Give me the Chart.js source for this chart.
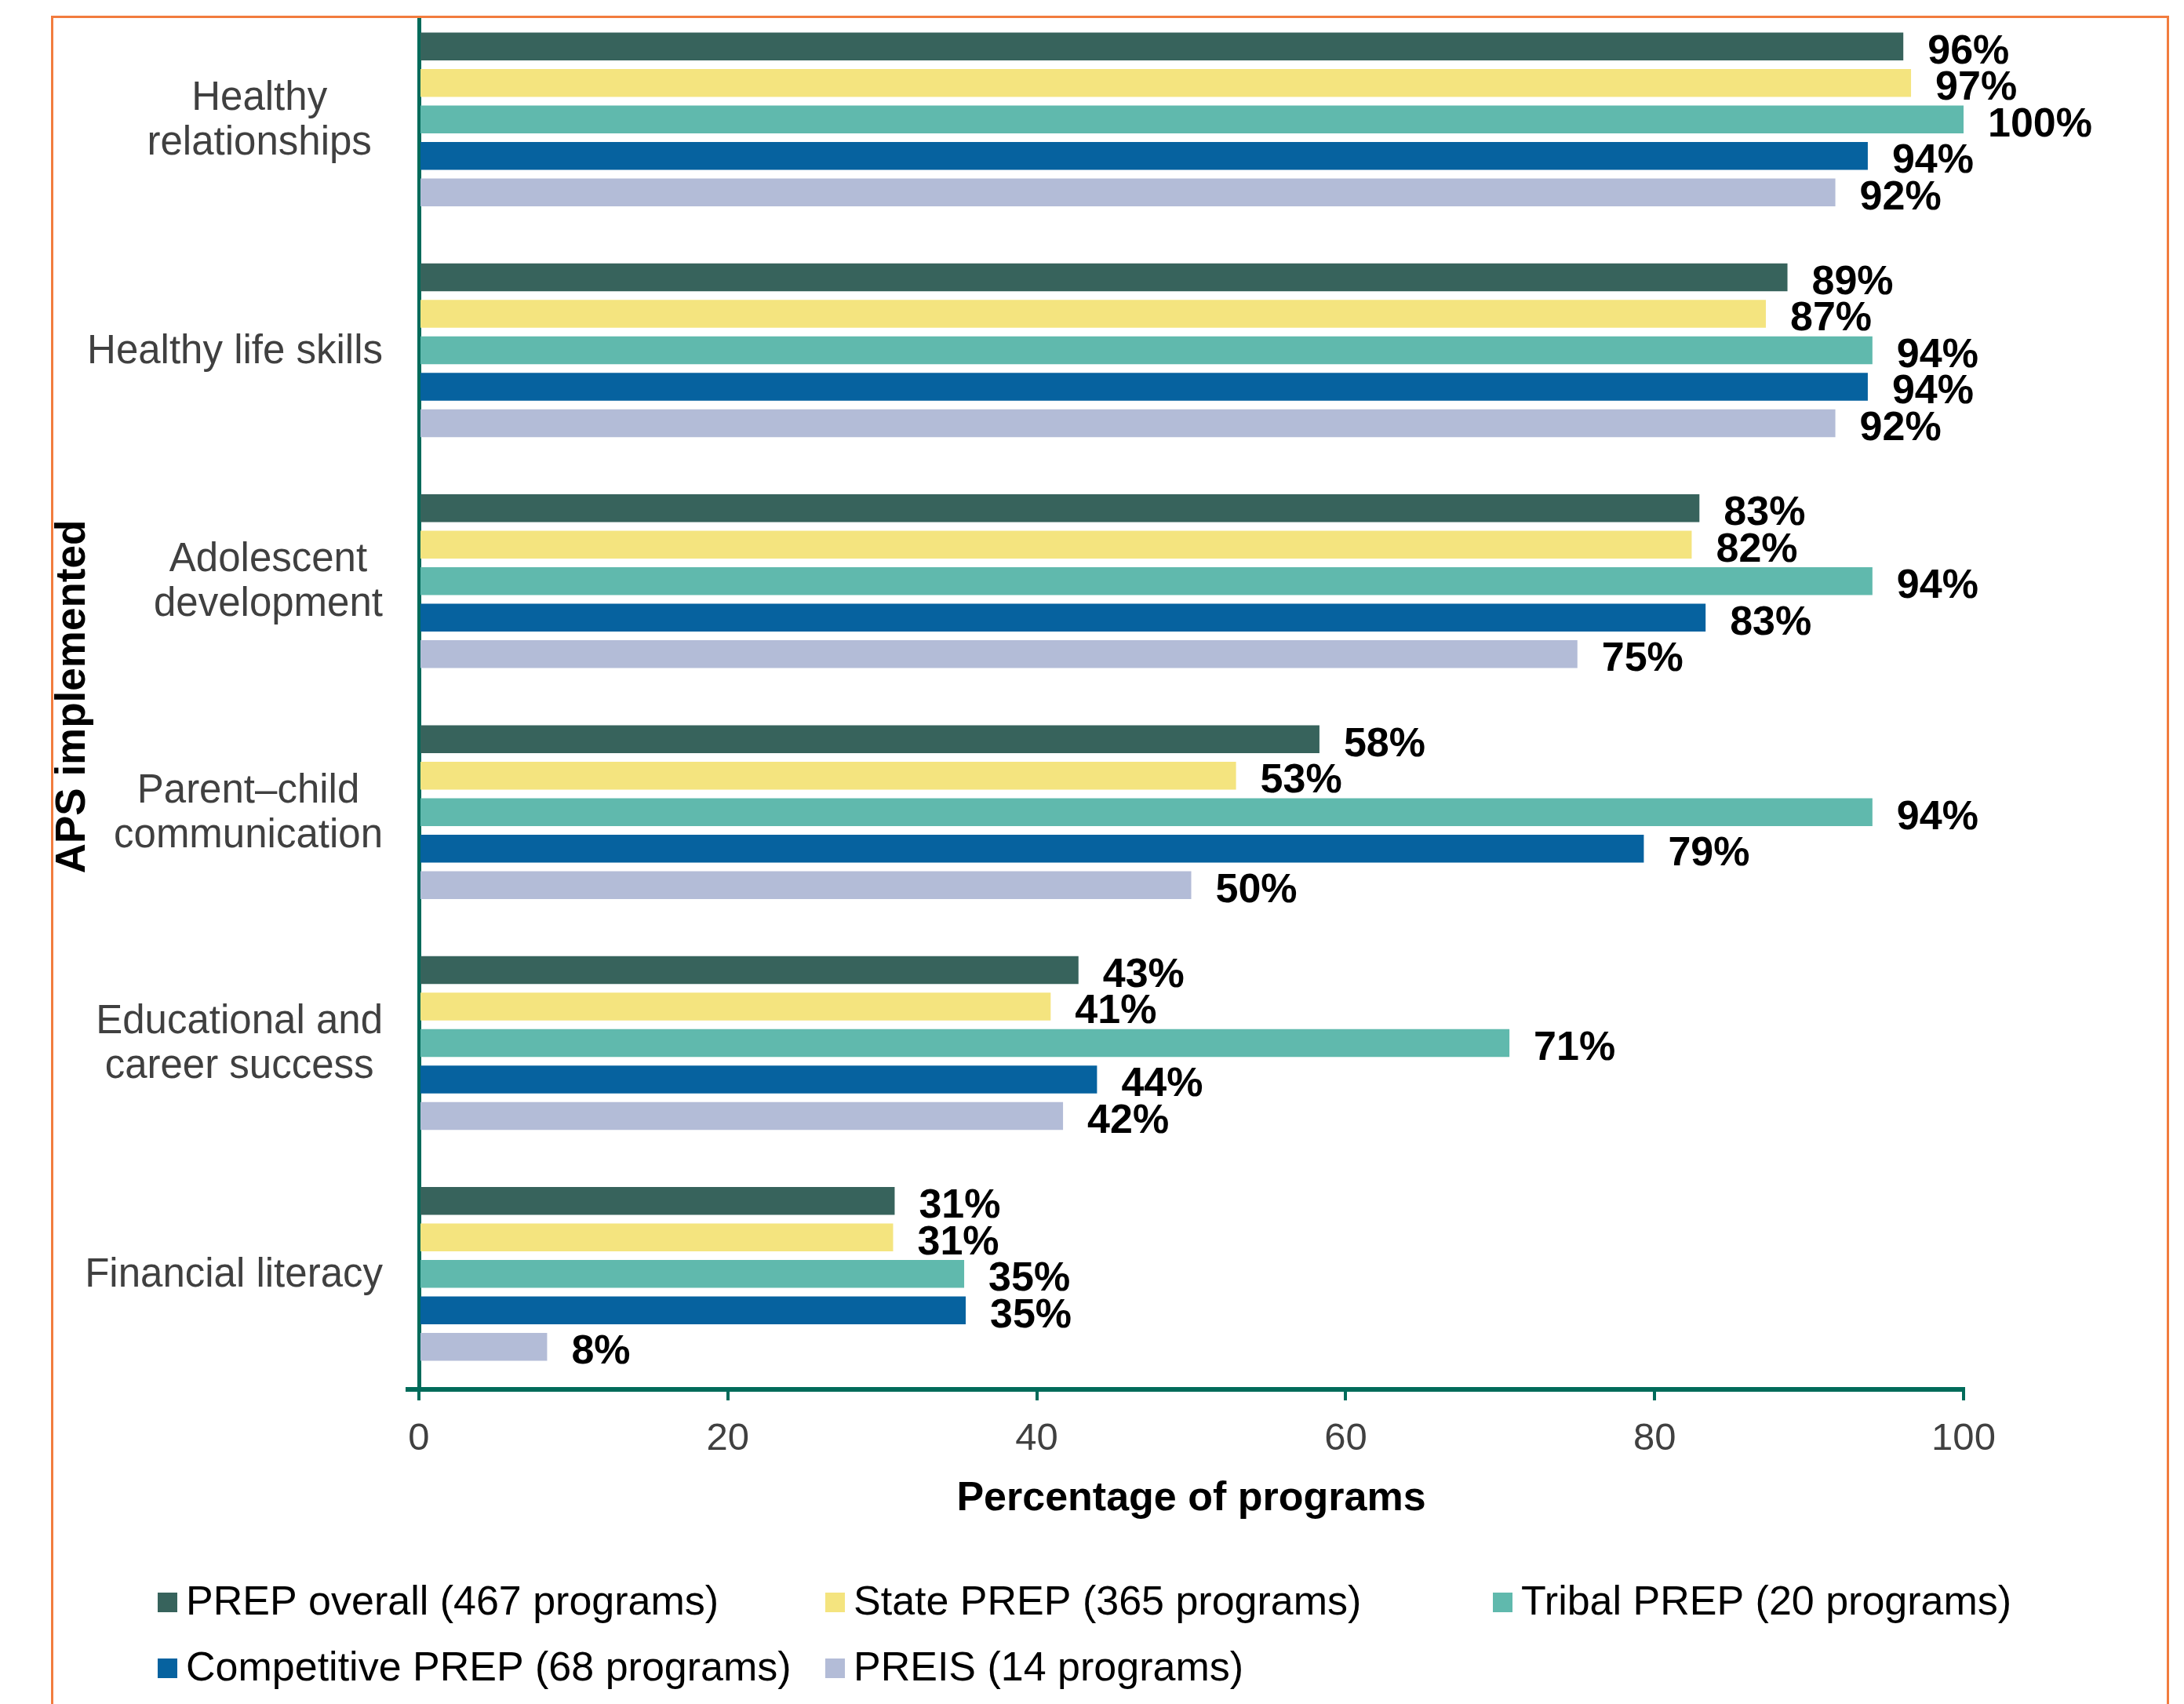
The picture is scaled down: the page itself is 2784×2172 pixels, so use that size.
<!DOCTYPE html>
<html>
<head>
<meta charset="utf-8">
<script src="https://cdn.jsdelivr.net/npm/chart.js@4.4.1/dist/chart.umd.min.js"></script>
<style>
  html, body { margin: 0; padding: 0; width: 2784px; height: 2172px; overflow: hidden; background: #fff; }
  #frame { position: absolute; left: 65px; top: 20px; width: 2694px; height: 2300px; border: 3px solid #F27C3E; overflow: hidden; }
  #chart { position: absolute; left: -68px; top: -23px; }
</style>
</head>
<body>
<div id="frame"><canvas id="chart" width="2784" height="2172"></canvas></div>
<script>
// category labels, one entry per wrapped line
const categories = [
  ['Healthy ', 'relationships '],
  ['Healthy life skills'],
  ['Adolescent', 'development'],
  ['Parent\u2013child', 'communication'],
  ['Educational and', 'career success'],
  ['Financial literacy']
];

const seriesNames = [
  'PREP overall (467 programs)',
  'State PREP (365 programs)',
  'Tribal PREP (20 programs)',
  'Competitive PREP (68 programs)',
  'PREIS (14 programs)'
];

const prepOverall     = [96.1, 88.6, 82.9, 58.3, 42.7, 30.8];
const statePrep       = [96.6, 87.2, 82.4, 52.9, 40.9, 30.7];
const tribalPrep      = [100, 94.1, 94.1, 94.1, 70.6, 35.3];
const competitivePrep = [93.8, 93.8, 83.3, 79.3, 43.9, 35.4];
const preis           = [91.7, 91.7, 75.0, 50.0, 41.7, 8.3];

const xTicks = [0, 20, 40, 60, 80, 100];

const colors = ['#37635C', '#F4E47F', '#60B9AD', '#06629F', '#B3BCD7'];
const axisGreen = '#006B5A';
const FONT = "'Liberation Sans', Arial, sans-serif";

const series = [prepOverall, statePrep, tribalPrep, competitivePrep, preis];

// category names drawn by hand so wrapped lines centre on each other
const categoryLabels = {
  id: 'categoryLabels',
  afterDraw(chart) {
    const ctx = chart.ctx;
    const ys = chart.scales.y;
    const lineH = 57;
    ctx.save();
    ctx.font = '51px ' + FONT;
    ctx.fillStyle = '#404040';
    ctx.textAlign = 'center';
    ctx.textBaseline = 'middle';
    categories.forEach((lines, i) => {
      const y = ys.getPixelForValue(i) + 2;
      const w = Math.max(...lines.map(l => ctx.measureText(l).width));
      const cx = ys.right - 46 - w / 2;
      lines.forEach((l, k) => {
        ctx.fillText(l, cx, y + (k - (lines.length - 1) / 2) * lineH);
      });
    });
    // x axis line pokes out a little left of the y axis
    const xs = chart.scales.x;
    ctx.fillStyle = axisGreen;
    ctx.fillRect(xs.left - 17, xs.top - 3, 20, 6);
    ctx.restore();
  }
};

const valueLabels = {
  id: 'valueLabels',
  afterDatasetsDraw(chart) {
    const ctx = chart.ctx;
    ctx.save();
    ctx.font = 'bold 52px ' + FONT;
    ctx.fillStyle = '#000';
    ctx.textAlign = 'left';
    ctx.textBaseline = 'middle';
    chart.data.datasets.forEach((ds, i) => {
      chart.getDatasetMeta(i).data.forEach((bar, j) => {
        ctx.fillText(Math.round(ds.data[j]) + '%', bar.x + 31, bar.y + 7);
      });
    });
    ctx.restore();
  }
};

// legend in fixed columns, 3 per row
const columnLegend = {
  id: 'columnLegend',
  afterDraw(chart) {
    const ctx = chart.ctx;
    const left = 201, colW = 851, base = 2058, rowH = 84;
    ctx.save();
    ctx.font = '52px ' + FONT;
    ctx.textBaseline = 'alphabetic';
    ctx.textAlign = 'left';
    chart.data.datasets.forEach((ds, i) => {
      const x = left + (i % 3) * colW;
      const y = base + Math.floor(i / 3) * rowH;
      ctx.fillStyle = ds.backgroundColor;
      ctx.fillRect(x, y - 28, 25, 25);
      ctx.fillStyle = '#000';
      ctx.fillText(ds.label, x + 36, y);
    });
    ctx.restore();
  }
};

new Chart(document.getElementById('chart'), {
  type: 'bar',
  data: {
    labels: categories.map(l => l.join(' ').trim()),
    datasets: series.map((data, i) => ({
      label: seriesNames[i],
      data: data,
      backgroundColor: colors[i],
      borderWidth: 0,
      categoryPercentage: 0.79,
      barPercentage: 0.763
    }))
  },
  options: {
    indexAxis: 'y',
    responsive: false,
    animation: false,
    layout: { padding: { top: 5, right: 281, left: 0, bottom: 0 } },
    plugins: {
      legend: { display: false },
      tooltip: { enabled: false }
    },
    scales: {
      x: {
        min: 0,
        max: 100,
        afterBuildTicks: s => { s.ticks = xTicks.map(v => ({ value: v })); },
        ticks: { color: '#404040', font: { family: FONT, size: 49 }, padding: 20 },
        grid: {
          drawOnChartArea: false,
          drawTicks: true,
          tickLength: 14,
          tickColor: axisGreen,
          tickWidth: 4,
          lineWidth: 4,
          color: axisGreen
        },
        border: { display: true, color: axisGreen, width: 6 },
        title: {
          display: true,
          text: 'Percentage of programs',
          color: '#000',
          font: { family: FONT, size: 52, weight: 'bold', lineHeight: 1 },
          padding: { top: 0, bottom: 235 }
        },
        afterFit: s => { s.height = 401; }
      },
      y: {
        ticks: { display: false },
        grid: { drawOnChartArea: false, drawTicks: false },
        border: { display: true, color: axisGreen, width: 5 },
        title: {
          display: true,
          text: 'APS implemented',
          color: '#000',
          font: { family: FONT, size: 53, weight: 'bold', lineHeight: 1 },
          padding: { top: 67, bottom: 0 }
        },
        afterFit: s => { s.width = 534; }
      }
    }
  },
  plugins: [categoryLabels, valueLabels, columnLegend]
});
</script>
</body>
</html>
